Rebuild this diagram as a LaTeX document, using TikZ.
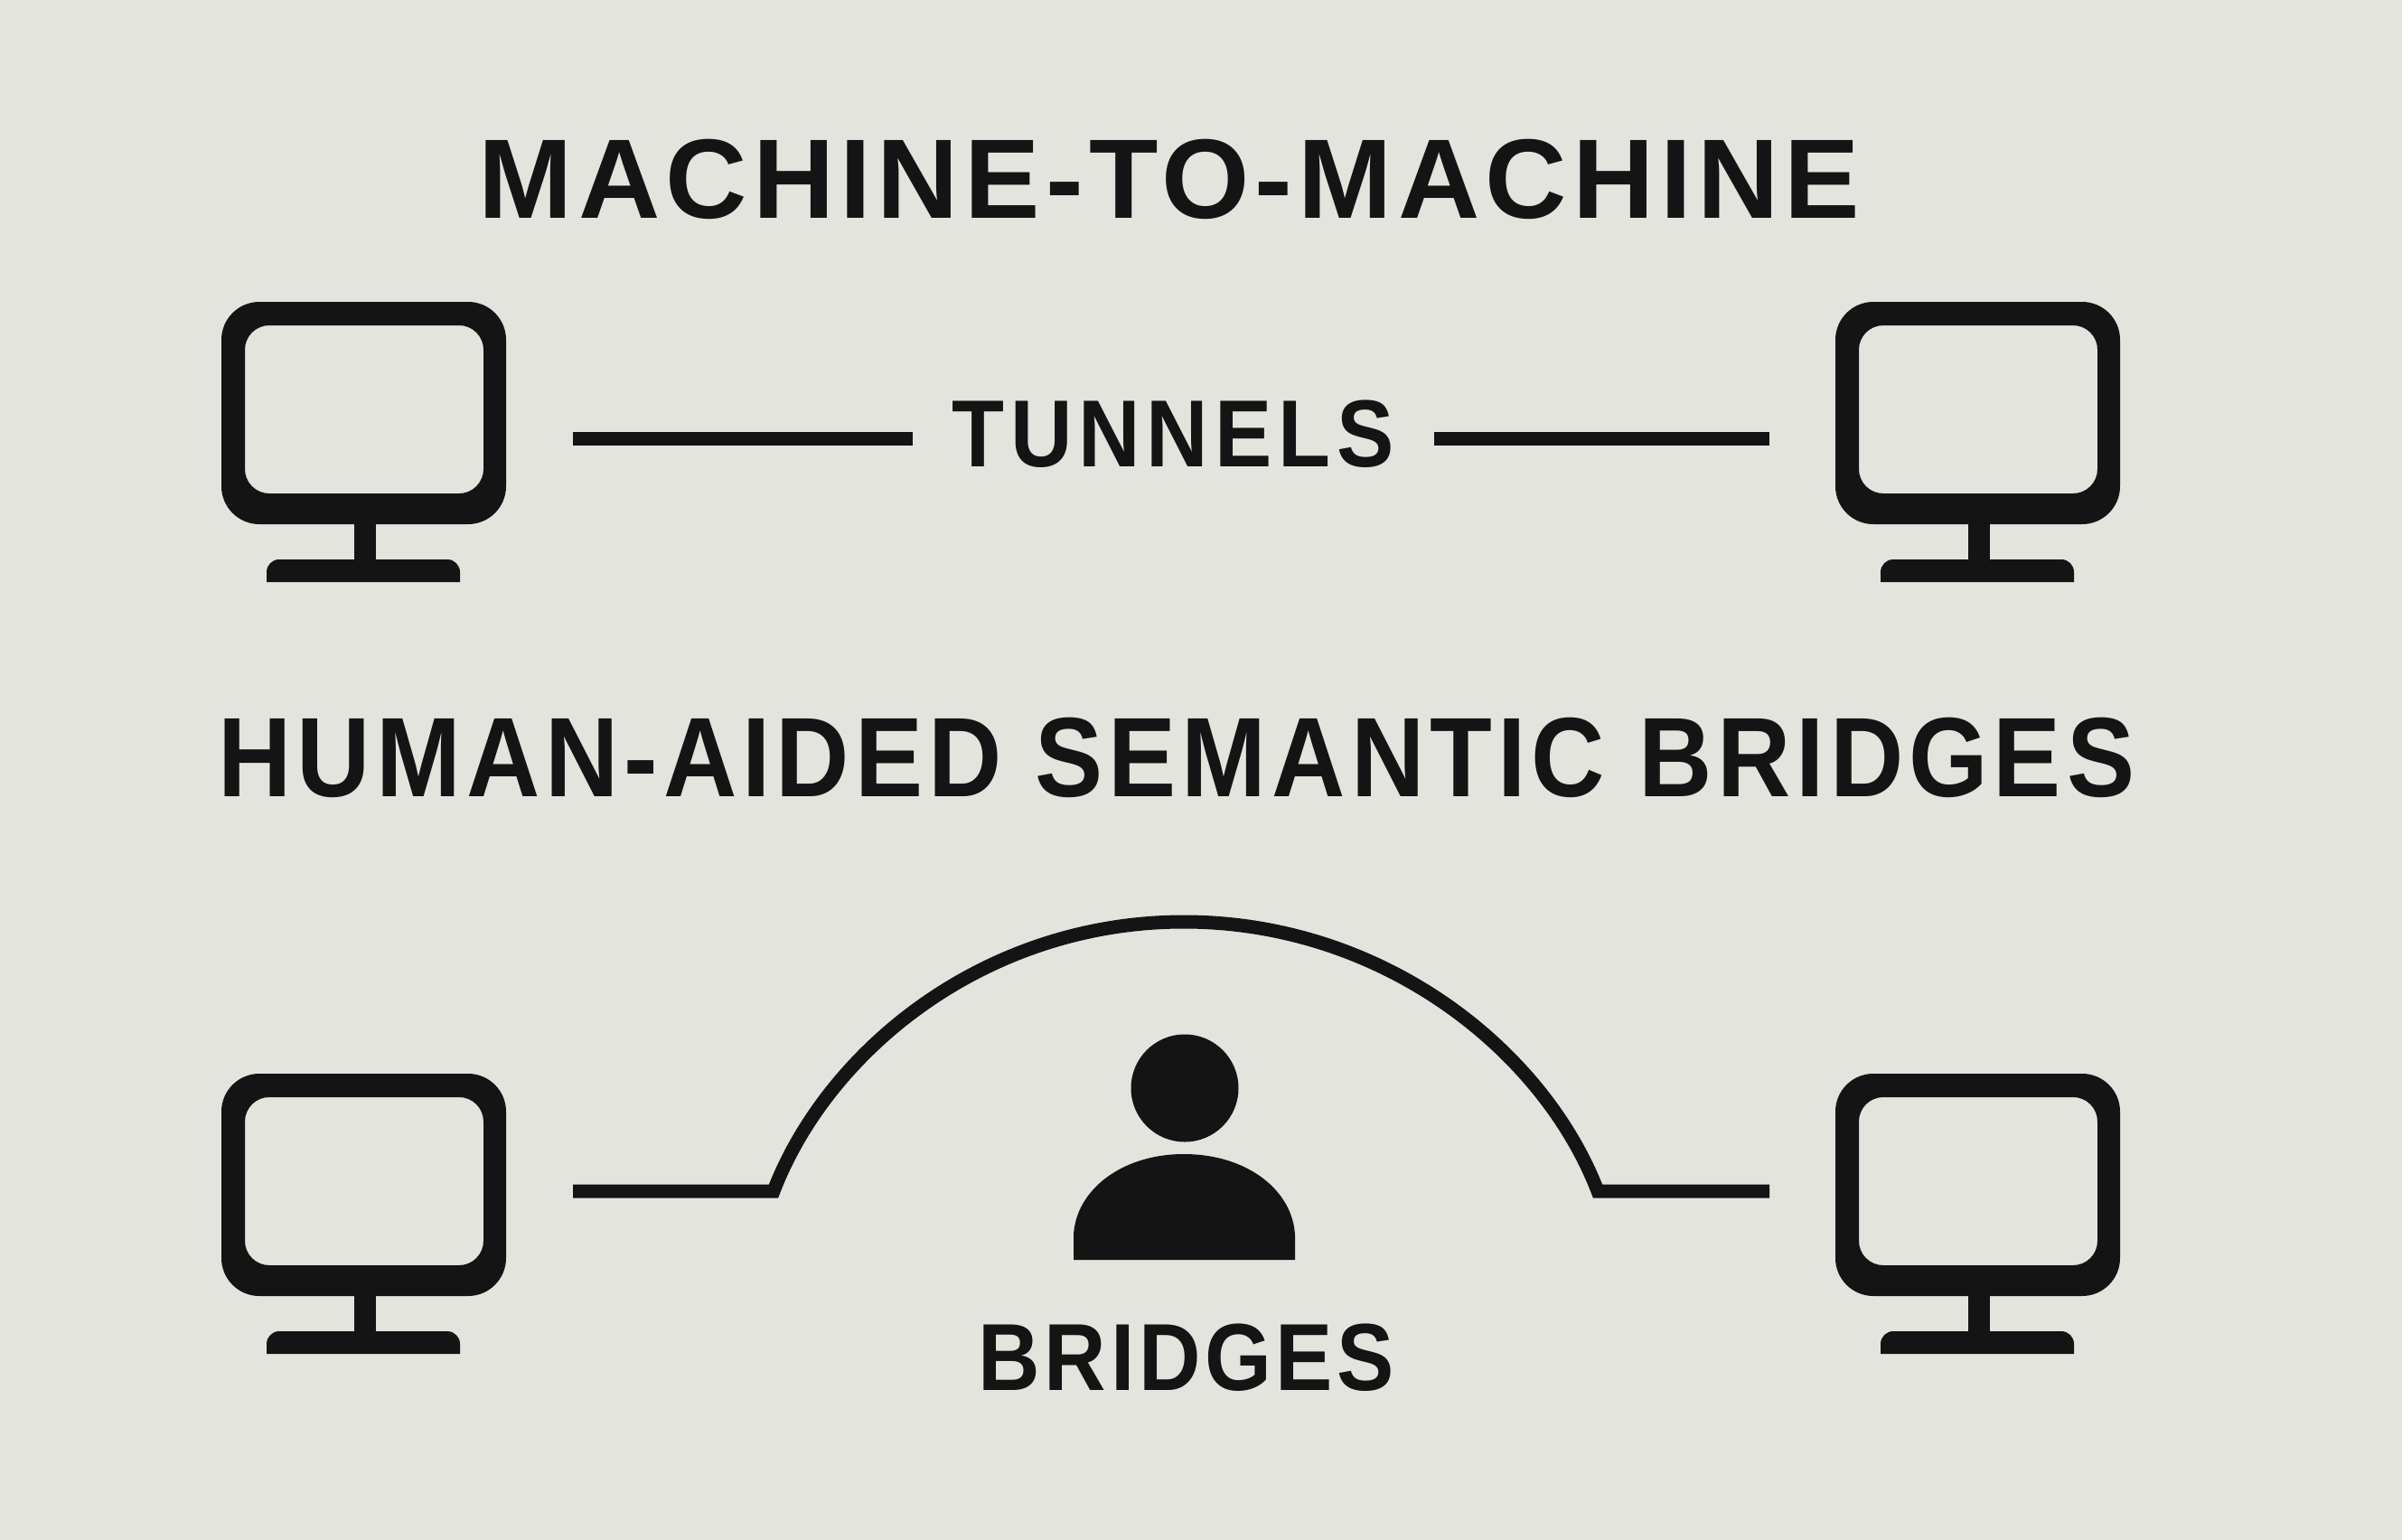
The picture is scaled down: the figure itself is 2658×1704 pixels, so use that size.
\documentclass[tikz,border=0pt]{standalone}
\usepackage{fontspec}
\newfontfamily\headfont{Liberation Sans}
\usetikzlibrary{positioning}

\definecolor{paper}{HTML}{E4E4DE}
\definecolor{ink}{HTML}{141414}

\tikzset{
    wire/.style={draw=ink, line width=15*0.1mm},
    heading/.style 2 args={text=ink, inner sep=0pt, font=\headfont\bfseries\fontsize{35.6}{40}\selectfont\addfontfeature{FakeStretch=#1,LetterSpace=#2}},
    caption/.style 2 args={text=ink, inner sep=0pt, font=\headfont\bfseries\fontsize{30}{34}\selectfont\addfontfeature{FakeStretch=#1,LetterSpace=#2}},
    pics/monitor/.style={
        code={
            % Screen frame
            \fill[ink, even odd rule] [rounded corners=42*0.1mm] (0,0) rectangle (315,246)
                [rounded corners=27*0.1mm] (26,26) rectangle (290,212);
            % Neck and foot
            \fill[ink] (147,240) rectangle (171,290);
            \fill[ink] (50,310) [rounded corners=14*0.1mm] -- (50,285) -- (264,285) [sharp corners] -- (264,310) -- cycle;
        }
    }
}

\begin{document}
\begin{tikzpicture}[x=0.1mm, y=-0.1mm]
        \fill[paper] (0,0) rectangle (2658,1704);

        % Headings
        \node[heading={1}{5}] (machinetitle) at (1294,198) {MACHINE-TO-MACHINE};
        \node[heading={0.9}{4.8}] (humantitle) at (1302,838) {HUMAN-AIDED SEMANTIC BRIDGES};

        % Upper monitors
        \pic (mtop) at (245,334) {monitor};
        \pic (mtopr) at (2031,334) {monitor};

        % Tunnel link
        \node[caption={0.9}{6.5}] (tunnels) at (1298,480) {TUNNELS};
        \coordinate (tunnelleft) at (634,485);
        \coordinate (tunnelinl) at (1010,485);
        \coordinate (tunnelinr) at (1587,485);
        \coordinate (tunnelright) at (1958,485);
        \draw[wire] (tunnelleft) -- (tunnelinl);
        \draw[wire] (tunnelinr) -- (tunnelright);

        % Lower monitors
        \pic (mlow) at (245,1188) {monitor};
        \pic (mlowr) at (2031,1188) {monitor};

        % Bridge link
        \coordinate (bridgeleft) at (634,1318);
        \coordinate (bridgefootl) at (856,1318);
        \coordinate (bridgetop) at (1310,1020);
        \coordinate (bridgefootr) at (1768,1318);
        \coordinate (bridgeright) at (1958,1318);
        \draw[wire, line join=miter] (bridgeleft) -- (bridgefootl)
            .. controls (916,1162) and (1090,1020) .. (bridgetop)
            .. controls (1530,1020) and (1708,1162) .. (bridgefootr) -- (bridgeright);

        % Person
        \fill[ink] (1311,1204) circle (59.5);
        \fill[ink] (1188,1394) -- (1188,1367) .. controls (1190,1318) and (1240,1277) .. (1310,1277)
            .. controls (1381,1277) and (1431,1318) .. (1433,1367) -- (1433,1394) -- cycle;
        \node[caption={0.9}{4.4}] (bridges) at (1313,1502) {BRIDGES};
    \end{tikzpicture}
\end{document}
